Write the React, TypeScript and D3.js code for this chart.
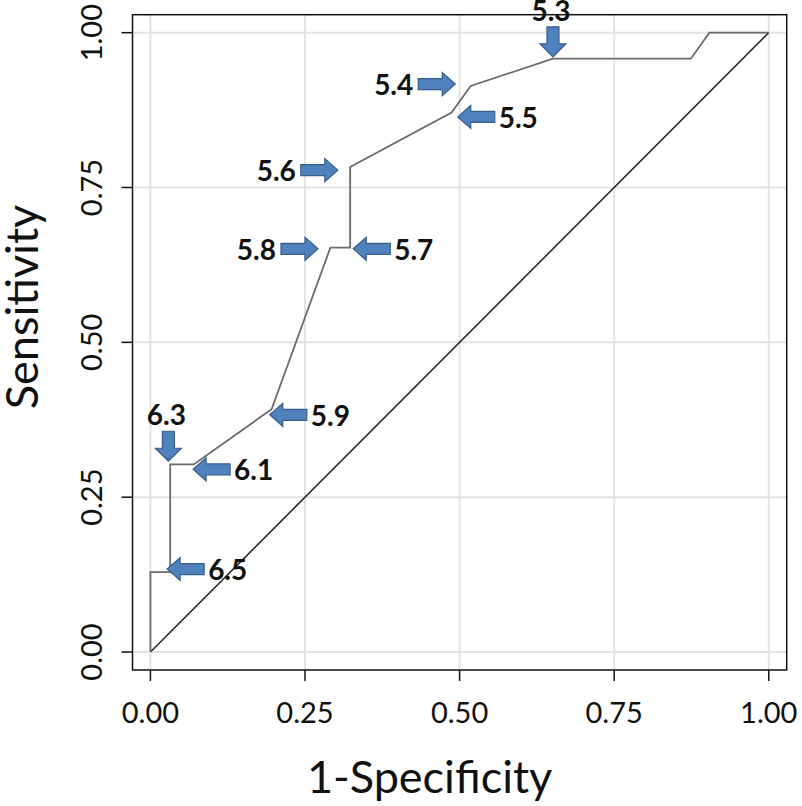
import React from "react";
import * as d3 from "d3";

// ROC curve points (1-Specificity, Sensitivity)
const fpr = [0, 0, 0.032, 0.032, 0.07, 0.196, 0.291, 0.323, 0.323, 0.487, 0.518, 0.651, 0.874, 0.904, 1];
const tpr = [0, 0.129, 0.129, 0.303, 0.303, 0.392, 0.653, 0.653, 0.783, 0.871, 0.914, 0.958, 0.958, 1, 1];

// Reference diagonal
const diagX = [0, 1];
const diagY = [0, 1];

// Cut-off annotations: label, arrow tip (data coords), direction
const cutLabels = ["5.3", "5.4", "5.5", "5.6", "5.7", "5.8", "5.9", "6.1", "6.3", "6.5"];
const cutTipX = [0.651, 0.493, 0.497, 0.303, 0.328, 0.271, 0.193, 0.069, 0.029, 0.027];
const cutTipY = [0.961, 0.917, 0.864, 0.778, 0.651, 0.651, 0.383, 0.295, 0.308, 0.134];
const cutDir = ["down", "right", "left", "right", "left", "right", "left", "left", "down", "left"];

const tickValues = [0, 0.25, 0.5, 0.75, 1];
const tickLabels = ["0.00", "0.25", "0.50", "0.75", "1.00"];

const W = 802;
const H = 806;
const panel = { left: 132.5, right: 786.7, top: 14.7, bottom: 670 };
const EXP = 0.029;

function arrowPath(tx: number, ty: number, dir: string) {
  if (dir === "down") {
    const L = 30, hl = 13, hw = 13, sw = 6;
    const top = ty - L;
    const hb = ty - hl;
    return `M${tx - sw},${top}L${tx + sw},${top}L${tx + sw},${hb}L${tx + hw},${hb}L${tx},${ty}L${tx - hw},${hb}L${tx - sw},${hb}Z`;
  }
  const L = 37, hl = 13, hh = 11.5, sh = 5.5;
  const s = dir === "right" ? -1 : 1; // tail direction from tip
  const tail = tx + s * L;
  const hb = tx + s * hl;
  return `M${tx},${ty}L${hb},${ty - hh}L${hb},${ty - sh}L${tail},${ty - sh}L${tail},${ty + sh}L${hb},${ty + sh}L${hb},${ty + hh}Z`;
}

export default function App() {
  const x = d3.scaleLinear().domain([-EXP, 1 + EXP]).range([panel.left, panel.right]);
  const y = d3.scaleLinear().domain([-EXP, 1 + EXP]).range([panel.bottom, panel.top]);

  const rocPts: [number, number][] = fpr.map((v, i) => [v, tpr[i]]);
  const diagPts: [number, number][] = diagX.map((v, i) => [v, diagY[i]]);
  const line = d3.line<[number, number]>().x((d) => x(d[0])).y((d) => y(d[1]));

  const font = "Lato, 'Open Sans', sans-serif";
  const labFs = 28;

  return (
    <svg
      width={W}
      height={H}
      style={{ position: "absolute", left: 0, top: 0, background: "#fff" }}
    >
      <rect x={0} y={0} width={W} height={H} fill="#fff" />
      {/* gridlines */}
      {tickValues.map((t) => (
        <line key={"gx" + t} x1={x(t)} x2={x(t)} y1={panel.top} y2={panel.bottom} stroke="#e3e3e3" strokeWidth={2} />
      ))}
      {tickValues.map((t) => (
        <line key={"gy" + t} x1={panel.left} x2={panel.right} y1={y(t)} y2={y(t)} stroke="#e3e3e3" strokeWidth={2} />
      ))}
      {/* diagonal */}
      <path d={line(diagPts) || ""} fill="none" stroke="#2a2a2a" strokeWidth={1.6} />
      {/* ROC curve */}
      <path d={line(rocPts) || ""} fill="none" stroke="#6b6b6b" strokeWidth={1.8} strokeLinejoin="miter" />
      {/* panel border */}
      <rect
        x={panel.left}
        y={panel.top}
        width={panel.right - panel.left}
        height={panel.bottom - panel.top}
        fill="none"
        stroke="#111"
        strokeWidth={1.5}
      />
      {/* x ticks */}
      {tickValues.map((t, i) => (
        <g key={"xt" + t}>
          <line x1={x(t)} x2={x(t)} y1={panel.bottom} y2={panel.bottom + 11} stroke="#111" strokeWidth={1.5} />
          <text x={x(t)} y={723} textAnchor="middle" fontFamily={font} fontSize={29} fill="#111">
            {tickLabels[i]}
          </text>
        </g>
      ))}
      {/* y ticks */}
      {tickValues.map((t, i) => (
        <g key={"yt" + t}>
          <line x1={panel.left - 11} x2={panel.left} y1={y(t)} y2={y(t)} stroke="#111" strokeWidth={1.5} />
          <text
            transform={`translate(102,${y(t)}) rotate(-90)`}
            textAnchor="middle"
            fontFamily={font}
            fontSize={29}
            fill="#111"
          >
            {tickLabels[i]}
          </text>
        </g>
      ))}
      {/* axis titles */}
      <text x={(panel.left + panel.right) / 2 - 30} y={793} textAnchor="middle" fontFamily={font} fontSize={45} fill="#111">
        1-Specificity
      </text>
      <text
        transform={`translate(38,${307}) rotate(-90)`}
        textAnchor="middle"
        fontFamily={font}
        fontSize={45}
        fill="#111"
      >
        Sensitivity
      </text>
      {/* cut-off annotations */}
      {cutLabels.map((lab, i) => {
        const tx = x(cutTipX[i]);
        const ty = y(cutTipY[i]);
        const dir = cutDir[i];
        let lx = tx, ly = ty, anchor = "middle";
        if (dir === "down") {
          lx = tx - 2;
          ly = ty - 30 - 6;
        } else if (dir === "right") {
          lx = tx - 37 - 5;
          ly = ty + labFs * 0.36 + 1;
          anchor = "end";
        } else {
          lx = tx + 37 + 4;
          ly = ty + labFs * 0.36 + 1;
          anchor = "start";
        }
        return (
          <g key={lab}>
            <path d={arrowPath(tx, ty, dir)} fill="#4f81bd" stroke="#385d8a" strokeWidth={1.2} />
            <text x={lx} y={ly} textAnchor={anchor} fontFamily={font} fontWeight={700} fontSize={labFs} fill="#111">
              {lab}
            </text>
          </g>
        );
      })}
    </svg>
  );
}
